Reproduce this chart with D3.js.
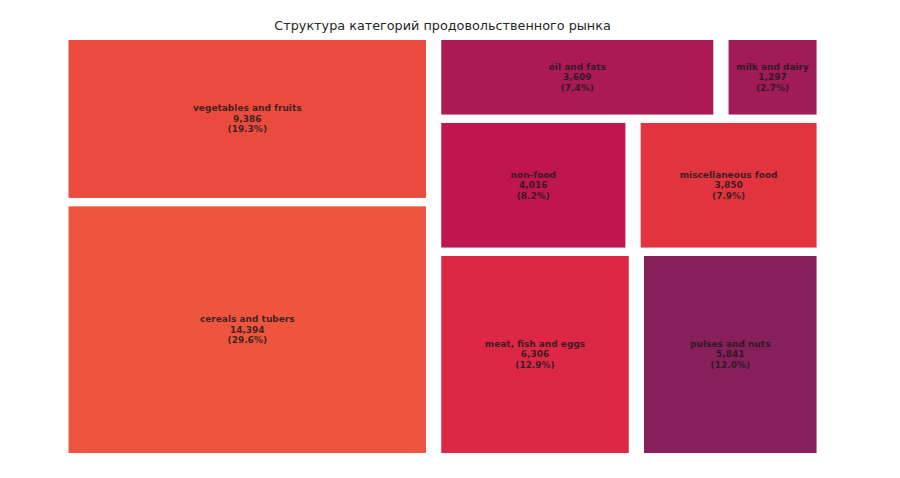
<!DOCTYPE html>
<html>
<head>
<meta charset="utf-8">
<script src="https://cdn.jsdelivr.net/npm/d3@7"></script>
<style>
  body { margin: 0; background: #fff; }
  svg { display: block; font-family: "DejaVu Sans", sans-serif; }
</style>
</head>
<body>
<div id="viz"></div>
<script>
// ====================
// DATA
// ====================
const categories = [
  'cereals and tubers',
  'vegetables and fruits',
  'meat, fish and eggs',
  'pulses and nuts',
  'non-food',
  'miscellaneous food',
  'oil and fats',
  'milk and dairy'
];
const values = [14394, 9386, 6306, 5841, 4016, 3850, 3609, 1297];
const colors = ['#ee553f', '#eb4a3e', '#dc2845', '#871f5b', '#bf1650', '#e1343f', '#ac1a55', '#a11b56'];
const title = 'Структура категорий продовольственного рынка';

// ====================
// SETUP
// ====================
const width = 900;
const height = 478;
const total = d3.sum(values);

// data space is 100 x 100, y grows upwards (like the original plot)
const x = d3.scaleLinear().domain([0, 100]).range([60.9, 824.2]);
const y = d3.scaleLinear().domain([0, 100]).range([457.2, 35.8]);

const fmt = d3.format(',');
const pct = d3.format('.1%');

// squarify tiling: strips along the shorter side, starting bottom-left
const worst = (areas, dx, dy) => {
  const covered = d3.sum(areas);
  return d3.max(areas, (a) => {
    const w = dx >= dy ? covered / dy : a / (covered / dx);
    const h = dx >= dy ? a / (covered / dy) : covered / dx;
    return Math.max(w / h, h / w);
  });
};

function squarifyTile(parent, x0, y0, x1, y1) {
  const nodes = parent.children;
  const k = (x1 - x0) * (y1 - y0) / parent.value;
  const areas = nodes.map((n) => n.value * k);
  let px = x0, py = y0, dx = x1 - x0, dy = y1 - y0;
  let start = 0;
  while (start < nodes.length) {
    let end = start + 1;
    while (end < nodes.length &&
      worst(areas.slice(start, end), dx, dy) >= worst(areas.slice(start, end + 1), dx, dy)) end++;
    const covered = d3.sum(areas.slice(start, end));
    const kids = nodes.slice(start, end);
    const group = { children: kids, value: d3.sum(kids, (n) => n.value) };
    if (dx >= dy) {
      const w = covered / dy;
      d3.treemapSlice(group, px, py, px + w, py + dy);
      px += w; dx -= w;
    } else {
      const h = covered / dx;
      d3.treemapDice(group, px, py, px + dx, py + h);
      py += h; dy -= h;
    }
    start = end;
  }
}

const root = d3.hierarchy({
  children: categories.map((c, i) => ({ name: c, value: values[i], color: colors[i] }))
})
  .sum((d) => d.value || 0)
  .sort((a, b) => b.value - a.value);

d3.treemap().size([100, 100]).tile(squarifyTile)(root);

// ====================
// DRAW
// ====================
const svg = d3.select('#viz')
  .append('svg')
  .attr('width', width)
  .attr('height', height);

svg.append('text')
  .attr('x', (x(0) + x(100)) / 2)
  .attr('y', 30)
  .attr('text-anchor', 'middle')
  .style('font-size', '12.8px')
  .style('fill', '#262626')
  .text(title);

// padding of one unit on each side, as the original squarify plot
const pad = (a, b) => (b - a > 2 ? [a + 1, b - 1] : [a, b]);

const cells = svg.selectAll('g.cell')
  .data(root.leaves())
  .join('g')
  .attr('class', 'cell');

cells.append('rect')
  .attr('x', (d) => x(pad(d.x0, d.x1)[0]))
  .attr('width', (d) => x(pad(d.x0, d.x1)[1]) - x(pad(d.x0, d.x1)[0]))
  .attr('y', (d) => y(pad(d.y0, d.y1)[1]))
  .attr('height', (d) => y(pad(d.y0, d.y1)[0]) - y(pad(d.y0, d.y1)[1]))
  .style('fill', (d) => d.data.color);

const lines = (d) => [d.data.name, fmt(d.value), `(${pct(d.value / total)})`];

cells.append('text')
  .attr('text-anchor', 'middle')
  .attr('transform', (d) => `translate(${x((d.x0 + d.x1) / 2)},${y((d.y0 + d.y1) / 2)})`)
  .style('font-size', '9px')
  .style('font-weight', 'bold')
  .style('fill', '#1a1a1a')
  .style('fill-opacity', 0.85)
  .selectAll('tspan')
  .data(lines)
  .join('tspan')
  .attr('x', 0)
  .attr('y', (d, i) => (i - 1) * 10.5 + 3)
  .text((d) => d);
</script>
</body>
</html>
